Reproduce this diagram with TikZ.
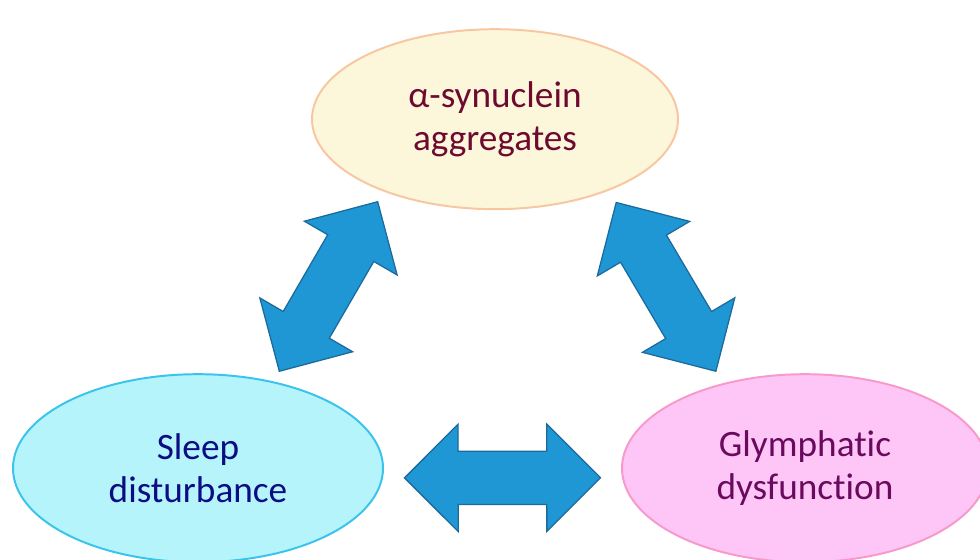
\documentclass[tikz,border=0pt]{standalone}
\usepackage{fontspec}
\setmainfont{Carlito}[Ligatures=NoCommon]
\usetikzlibrary{shapes.geometric,shapes.arrows,positioning}
\definecolor{synfill}{HTML}{FCF7DB}
\definecolor{synline}{HTML}{F8C6A0}
\definecolor{syntext}{HTML}{6E0A30}
\definecolor{slpfill}{HTML}{B5F4FA}
\definecolor{slpline}{HTML}{3AC3EC}
\definecolor{slptext}{HTML}{0C0C85}
\definecolor{glyfill}{HTML}{FEC6F6}
\definecolor{glyline}{HTML}{F79ACB}
\definecolor{glytext}{HTML}{6A0A5E}
\definecolor{arrfill}{HTML}{1F97D4}
\definecolor{arrline}{HTML}{1C6A9C}
\tikzset{font={\fontsize{26.5pt}{30.6pt}\selectfont}}
\tikzset{
  ell/.style={ellipse, draw, line width=1.4pt, inner sep=0pt, align=center},
  fat/.style={double arrow, draw=arrline, fill=arrfill, line width=0.9pt, sloped,
    minimum height=4.9cm, inner xsep=0pt, inner ysep=0.65cm,
    double arrow head extend=0.675cm, double arrow tip angle=90},
}

\begin{document}
\begin{tikzpicture}[on grid]
  \clip (0,0) rectangle (24.5,14);
  % Define nodes
  \node[ell, draw=synline, fill=synfill, text=syntext, minimum width=9.15cm, minimum height=4.5cm] (syn) at (12.375,11.02) {α-synuclein\\aggregates};
  \node[ell, draw=slpline, fill=slpfill, text=slptext, minimum width=9.25cm, minimum height=4.7cm, below left=8.725 and 7.425 of syn] (sleep) {Sleep\\disturbance};
  \node[ell, draw=glyline, fill=glyfill, text=glytext, minimum width=9.15cm, minimum height=4.7cm, below right=8.725 and 7.75 of syn] (glym) {Glymphatic\\dysfunction};

  % Connect the nodes
  \path (syn.213) -- node[fat] {} (sleep.49);
  \path (syn.328) -- node[fat] {} (glym.134);
  \path (sleep.357) -- node[fat] {} (glym.183);
\end{tikzpicture}
\end{document}
